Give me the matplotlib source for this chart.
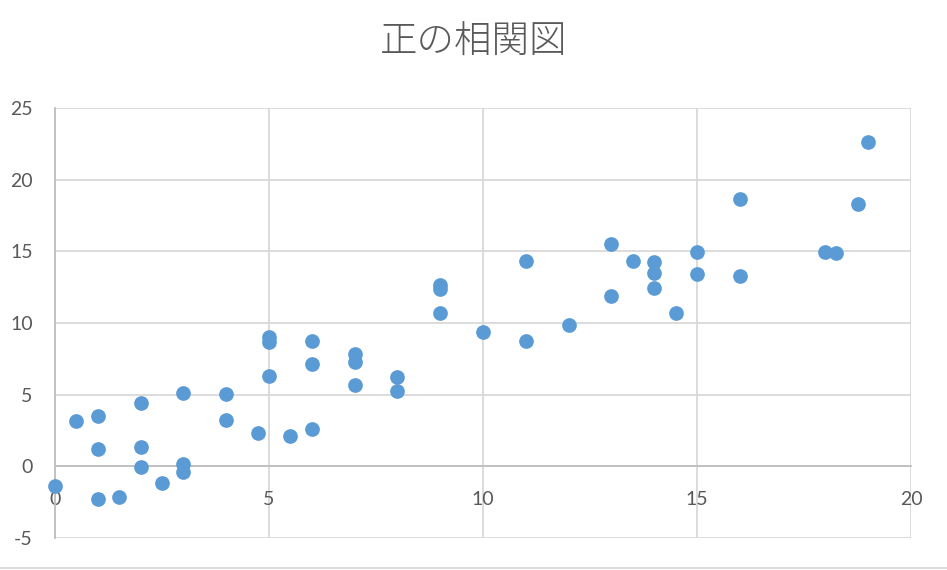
import matplotlib

matplotlib.use("Agg")
import matplotlib.pyplot as plt
from matplotlib.lines import Line2D


TITLE = "正の相関図"
X_VALUES = [
    0, 0.5, 1, 1, 1, 1.5, 2, 2, 2, 2.5, 3, 3, 3, 4, 4, 4.75, 5, 5, 5, 5.5,
    6, 6, 6, 7, 7, 7, 8, 8, 9, 9, 9, 10, 11, 11, 12, 13, 13, 13.5, 14, 14,
    14, 14.5, 15, 15, 16, 16, 18, 18.25, 18.75, 19,
]
Y_VALUES = [
    -1.4, 3.15, 3.5, 1.2, -2.25, -2.15, 4.43, 1.35, -0.05, -1.15, 5.1, 0.14,
    -0.42, 5.03, 3.24, 2.31, 9.0, 8.65, 6.3, 2.12, 8.74, 7.16, 2.61, 7.86,
    7.28, 5.7, 6.22, 5.27, 12.65, 12.38, 10.72, 9.4, 14.33, 8.71, 9.89, 15.5,
    11.9, 14.33, 14.26, 13.5, 12.47, 10.67, 14.96, 13.45, 18.63, 13.31,
    14.96, 14.9, 18.3, 22.65,
]
X_TICKS = [0, 5, 10, 15, 20]
Y_TICKS = [-5, 0, 5, 10, 15, 20, 25]

W, H = 947, 570
POINT_COLOR = "#5B9BD5"
GRID_COLOR = "#D9D9D9"
AXIS_COLOR = "#BFBFBF"
TEXT_COLOR = "#595959"
NUM_FONT = ["Lato", "DejaVu Sans"]
JP_FONT = ["Noto Sans CJK JP", "DejaVu Sans"]

fig = plt.figure(figsize=(W / 100, H / 100), dpi=100)
ax = fig.add_axes([55 / W, (H - 538) / H, 856 / W, 430 / H])

ax.scatter(X_VALUES, Y_VALUES, s=112, color=POINT_COLOR, linewidths=0,
           zorder=3, clip_on=False)

ax.set_xlim(0, 20)
ax.set_ylim(-5, 25)
ax.set_xticks(X_TICKS)
ax.set_yticks(Y_TICKS)
ax.set_xticklabels([str(v) for v in X_TICKS])
ax.set_yticklabels([str(v) for v in Y_TICKS])

ax.grid(True, color=GRID_COLOR, linewidth=1.3, zorder=0)
ax.set_axisbelow(True)

for side in ("top", "right"):
    ax.spines[side].set_visible(False)
ax.spines["bottom"].set_position(("data", 0))
ax.spines["left"].set_position(("data", 0))
for side in ("bottom", "left"):
    ax.spines[side].set_color(AXIS_COLOR)
    ax.spines[side].set_linewidth(1.3)
    ax.spines[side].set_zorder(1)

ax.tick_params(axis="x", length=0, pad=18, labelsize=14, labelcolor=TEXT_COLOR)
ax.tick_params(axis="y", length=0, pad=16, labelsize=14, labelcolor=TEXT_COLOR)
for lab in ax.get_xticklabels() + ax.get_yticklabels():
    lab.set_family(NUM_FONT)

fig.text(0.5, 1 - 42 / H, TITLE, ha="center", va="center", fontsize=27,
         color=TEXT_COLOR, family=JP_FONT, fontweight="light")

# chart border seen at the bottom of the picture
fig.add_artist(Line2D([0, 1], [1 - 568 / H] * 2, transform=fig.transFigure,
                      color=GRID_COLOR, linewidth=1.3))

fig.savefig("out.png", dpi=100)
plt.close(fig)
